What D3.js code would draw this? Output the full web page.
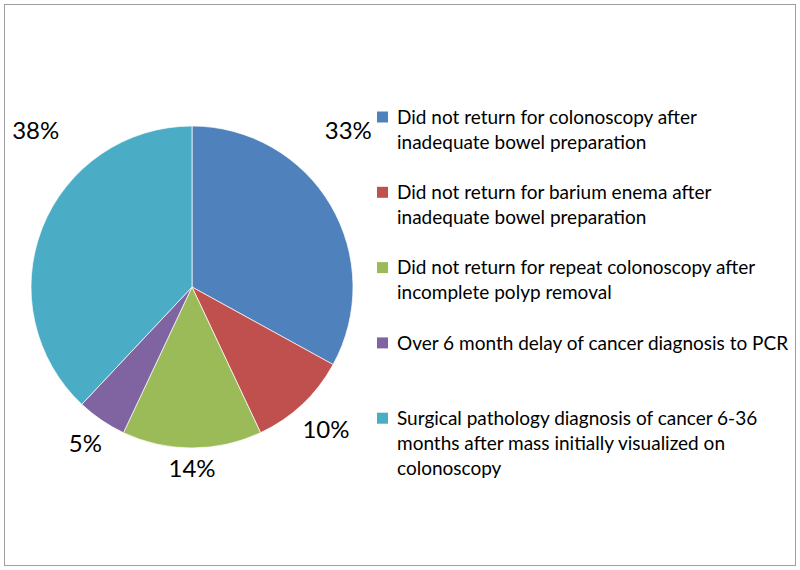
<!DOCTYPE html>
<html>
<head>
<meta charset="utf-8">
<script src="https://cdn.jsdelivr.net/npm/d3@7"></script>
<style>
  body { margin: 0; background: #fff; }
  text { font-family: Lato, "Open Sans", sans-serif; fill: #000; }
</style>
</head>
<body>
<script>
var categories = [
  ['Did not return for colonoscopy after', 'inadequate bowel preparation'],
  ['Did not return for barium enema after', 'inadequate bowel preparation'],
  ['Did not return for repeat colonoscopy after', 'incomplete polyp removal'],
  ['Over 6 month delay of cancer diagnosis to PCR'],
  ['Surgical pathology diagnosis of cancer 6-36', 'months after mass initially visualized on', 'colonoscopy']
];
var values = [33, 10, 14, 5, 38];
var colors = ['#4f81bd', '#c0504d', '#9bbb59', '#8064a2', '#4bacc6'];

var width = 800;
var height = 570;
var cx = 192;
var cy = 287;
var radius = 161;

var svg = d3.select('body').append('svg')
  .attr('width', width)
  .attr('height', height);

svg.append('rect')
  .attr('x', 4.5).attr('y', 4.5)
  .attr('width', 791).attr('height', 561)
  .attr('fill', '#fff')
  .attr('stroke', '#9f9f9f');

var pie = d3.pie().sort(null).value(function(d) { return d; });
var arcs = pie(values);
var arc = d3.arc().innerRadius(0).outerRadius(radius);

var g = svg.append('g').attr('transform', 'translate(' + cx + ',' + cy + ')');

g.selectAll('path')
  .data(arcs)
  .enter().append('path')
    .attr('d', arc)
    .attr('fill', function(d, i) { return colors[i]; })
    .attr('stroke', '#fff')
    .attr('stroke-width', 0.7);

// big slices touching the top get their label near the 45 degree diagonal,
// like the original chart did
function isBig(d) {
  return d.endAngle - d.startAngle > Math.PI / 2;
}

function labelAngle(d) {
  if (isBig(d)) {
    if (d.startAngle < 0.01) return d.startAngle + Math.PI / 4;
    return d.endAngle - Math.PI / 4;
  }
  return (d.startAngle + d.endAngle) / 2;
}

var labels = g.selectAll('.label')
  .data(arcs)
  .enter().append('text')
    .attr('class', 'label')
    .attr('dy', '0.35em')
    .attr('text-anchor', 'middle')
    .style('font-size', '24px')
    .text(function(d) { return d.data + '%'; });

labels.each(function(d) {
  var box = this.getBBox();
  var a = labelAngle(d);
  var ext = box.width / 2 * Math.abs(Math.sin(a)) + 9 * Math.abs(Math.cos(a));
  var r = isBig(d) ? radius + 60 : radius + 12 + ext;
  d3.select(this)
    .attr('x', Math.sin(a) * r)
    .attr('y', -Math.cos(a) * r);
});

var legend = svg.append('g').attr('transform', 'translate(377,0)');
var rowY = d3.scaleLinear().domain([0, 1]).range([117, 192.3]);

var rows = legend.selectAll('.row')
  .data(categories)
  .enter().append('g')
    .attr('class', 'row')
    .attr('transform', function(d, i) { return 'translate(0,' + rowY(i) + ')'; });

rows.append('rect')
  .attr('x', 0).attr('y', -5.5)
  .attr('width', 11).attr('height', 11)
  .attr('fill', function(d, i) { return colors[i]; });

rows.append('text')
  .attr('x', 20)
  .style('font-size', '19px')
  .selectAll('tspan')
  .data(function(d) { return d; })
  .enter().append('tspan')
    .attr('x', 20)
    .attr('y', function(d, j) { return j * 25; })
    .attr('dy', '0.35em')
    .text(function(d) { return d; });
</script>
</body>
</html>
